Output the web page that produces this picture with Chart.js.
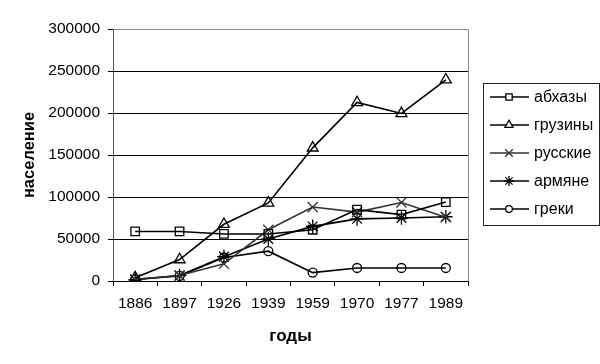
<!DOCTYPE html>
<html>
<head>
<meta charset="utf-8">
<script src="https://cdn.jsdelivr.net/npm/chart.js@4/dist/chart.umd.min.js"></script>
<style>
  body { margin: 0; background: #fff; }
  #wrap { width: 600px; height: 364px; }
</style>
</head>
<body>
<div id="wrap"><canvas id="chart" width="600" height="364"></canvas></div>
<script>
//Categories (years)
const years = ["1886", "1897", "1926", "1939", "1959", "1970", "1977", "1989"];
//Series values
const abkhaz = [59000, 59000, 56000, 56000, 61000, 85000, 79000, 94000];
const georgians = [4000, 25500, 67500, 93000, 158500, 212500, 199500, 239500];
const russians = [2000, 6500, 20500, 61000, 88000, 82000, 93500, 76000];
const armenians = [1500, 6500, 29000, 50000, 65000, 74000, 75000, 76500];
const greeks = [2000, 6000, 28000, 35500, 10000, 15500, 15500, 15500];
//Y axis ticks
const yTicks = [0, 50000, 100000, 150000, 200000, 250000, 300000];

const FONT = "'Liberation Sans', Arial, sans-serif";

function series(label, data, style, radius, color) {
  return {
    label: label,
    data: data,
    borderColor: color,
    backgroundColor: "#fff",
    borderWidth: 1.6,
    pointStyle: style,
    pointRadius: radius,
    pointBorderColor: color,
    pointBackgroundColor: "rgba(255,255,255,0)",
    pointBorderWidth: 1.3,
    tension: 0,
  };
}

//Plot frame (top and right edges)
const framePlugin = {
  id: "frame",
  afterDraw(chart) {
    const { ctx, chartArea: a } = chart;
    ctx.save();
    ctx.strokeStyle = "#8c8c8c";
    ctx.lineWidth = 1;
    ctx.beginPath();
    ctx.moveTo(a.left, a.top + 0.5);
    ctx.lineTo(a.right + 0.5, a.top + 0.5);
    ctx.lineTo(a.right + 0.5, a.bottom);
    ctx.stroke();
    ctx.restore();
  },
};

//Legend box drawn by hand (line with marker, like the original)
const boxLegend = {
  id: "boxLegend",
  afterDraw(chart) {
    const ctx = chart.ctx;
    const x0 = 483.5, y0 = 83.5, w = 116, h = 142;
    ctx.save();
    ctx.strokeStyle = "#222";
    ctx.lineWidth = 1;
    ctx.strokeRect(x0, y0, w, h);
    ctx.font = "16px " + FONT;
    ctx.textBaseline = "middle";
    ctx.fillStyle = "#000";
    chart.data.datasets.forEach((ds, i) => {
      const y = 97 + i * 28;
      ctx.strokeStyle = ds.borderColor;
      ctx.lineWidth = 1.5;
      ctx.beginPath();
      ctx.moveTo(490, y);
      ctx.lineTo(529, y);
      ctx.stroke();
      ctx.lineWidth = 1.3;
      ctx.fillStyle = "#fff";
      Chart.helpers.drawPoint(ctx, {
        pointStyle: ds.pointStyle,
        radius: ds.pointRadius * 0.75,
        rotation: 0,
        borderWidth: 1.3,
      }, 509, y);
      ctx.fillStyle = "#000";
      ctx.fillText(ds.label, 534, y + 1);
    });
    ctx.restore();
  },
};

new Chart(document.getElementById("chart"), {
  type: "line",
  data: {
    labels: years,
    datasets: [
      series("абхазы", abkhaz, "rect", 6, "#000"),
      series("грузины", georgians, "triangle", 6.3, "#000"),
      series("русские", russians, "crossRot", 7.2, "#333"),
      series("армяне", armenians, "star", 6.8, "#000"),
      series("греки", greeks, "circle", 4.5, "#000"),
    ],
  },
  options: {
    responsive: false,
    animation: false,
    layout: { padding: { top: 29, right: 132, left: 0, bottom: 0 } },
    plugins: {
      legend: { display: false },
      tooltip: { enabled: false },
    },
    scales: {
      x: {
        offset: true,
        grid: {
          offset: true,
          drawOnChartArea: false,
          drawTicks: true,
          tickLength: 5,
          color: "#000",
        },
        border: { color: "#000", width: 1 },
        ticks: {
          color: "#000",
          font: { family: FONT, size: 15.5 },
          padding: 8,
          maxRotation: 0,
          autoSkip: false,
        },
        title: {
          display: true,
          text: "годы",
          color: "#000",
          font: { family: FONT, size: 17, weight: "bold" },
          padding: { top: 0, bottom: 17 },
        },
        afterFit(scale) {
          scale.height = 83;
        },
      },
      y: {
        min: 0,
        max: 300000,
        afterBuildTicks(scale) {
          scale.ticks = yTicks.map((v) => ({ value: v }));
        },
        grid: {
          color: "#000",
          lineWidth: 1,
          drawTicks: true,
          tickLength: 5,
        },
        border: { color: "#555", width: 1 },
        ticks: {
          color: "#000",
          font: { family: FONT, size: 15.5 },
          padding: 8,
          callback: (v) => String(v),
        },
        title: {
          display: true,
          text: "население",
          color: "#000",
          font: { family: FONT, size: 16.5, weight: "bold" },
          padding: { top: 20, bottom: 0 },
        },
        afterFit(scale) {
          scale.width = 113;
        },
      },
    },
  },
  plugins: [framePlugin, boxLegend],
});
</script>
</body>
</html>
